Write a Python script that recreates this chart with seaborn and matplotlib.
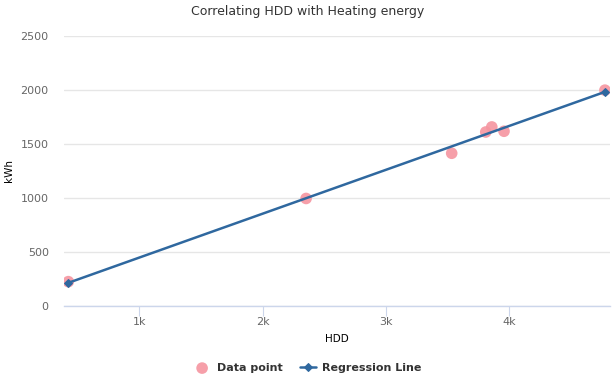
import matplotlib
matplotlib.use('Agg')
import matplotlib.pyplot as plt
import matplotlib.ticker as mticker
import seaborn as sns
import pandas as pd

# Data
hdd = [425, 2352, 3532, 3808, 3857, 3956, 4774]
kwh = [223, 994, 1413, 1610, 1657, 1617, 1998]
reg_hdd = [425, 4774]
reg_kwh = [212, 1982]

points = pd.DataFrame({'HDD': hdd, 'kWh': kwh})
reg = pd.DataFrame({'HDD': reg_hdd, 'kWh': reg_kwh})

sns.set_style('white')
plt.rcParams['font.family'] = ['DejaVu Sans']

fig = plt.figure(figsize=(6.16, 3.82), dpi=100)
ax = fig.add_axes([64 / 616, 1 - 305.7 / 382, (610 - 64) / 616, (305.7 - 36) / 382])

point_color = '#f595a0'
line_color = '#2f689f'

sns.scatterplot(data=points, x='HDD', y='kWh', ax=ax, color=point_color, s=70,
                edgecolor='none', alpha=0.9, zorder=3, label='Data point')
sns.lineplot(data=reg, x='HDD', y='kWh', ax=ax, color=line_color, lw=1.8,
             marker='D', markersize=4.5, markeredgecolor=line_color, zorder=4,
             label='Regression Line')

ax.set_xlim(390, 4815)
ax.set_ylim(0, 2500)
ax.set_yticks(range(0, 2501, 500))
ax.set_xticks([1000, 2000, 3000, 4000])
ax.xaxis.set_major_formatter(mticker.FuncFormatter(lambda v, p: f'{int(v / 1000)}k'))

ax.grid(axis='y', color='#e6e6e6', lw=1)
ax.set_axisbelow(True)
for side in ['top', 'right', 'left']:
    ax.spines[side].set_visible(False)
ax.spines['bottom'].set_color('#ccd6eb')
ax.spines['bottom'].set_linewidth(1)
ax.tick_params(axis='x', bottom=True, length=7.2, width=0.8, color='#ccd6eb', labelsize=8,
               labelcolor='#666666', pad=1, direction='out')
ax.tick_params(axis='y', left=False, length=0, labelsize=8, labelcolor='#666666', pad=11)

ax.set_xlabel('HDD', fontsize=7.5, color='#000000', labelpad=5)
ax.set_ylabel('kWh', fontsize=7.5, color='#000000', labelpad=5)
fig.text(0.5, 1 - 12 / 382, 'Correlating HDD with Heating energy', ha='center', va='center',
         fontsize=9, color='#333333')

handles, labels = ax.get_legend_handles_labels()
ax.legend_.remove()
leg = fig.legend(handles, labels, loc='center', bbox_to_anchor=(0.5, 1 - 368 / 382), ncol=2,
                 frameon=False, prop={'weight': 'bold', 'size': 8}, handlelength=1.4,
                 columnspacing=1.6, handletextpad=0.6)
for t in leg.get_texts():
    t.set_color('#333333')

fig.savefig('out.png', dpi=100)
